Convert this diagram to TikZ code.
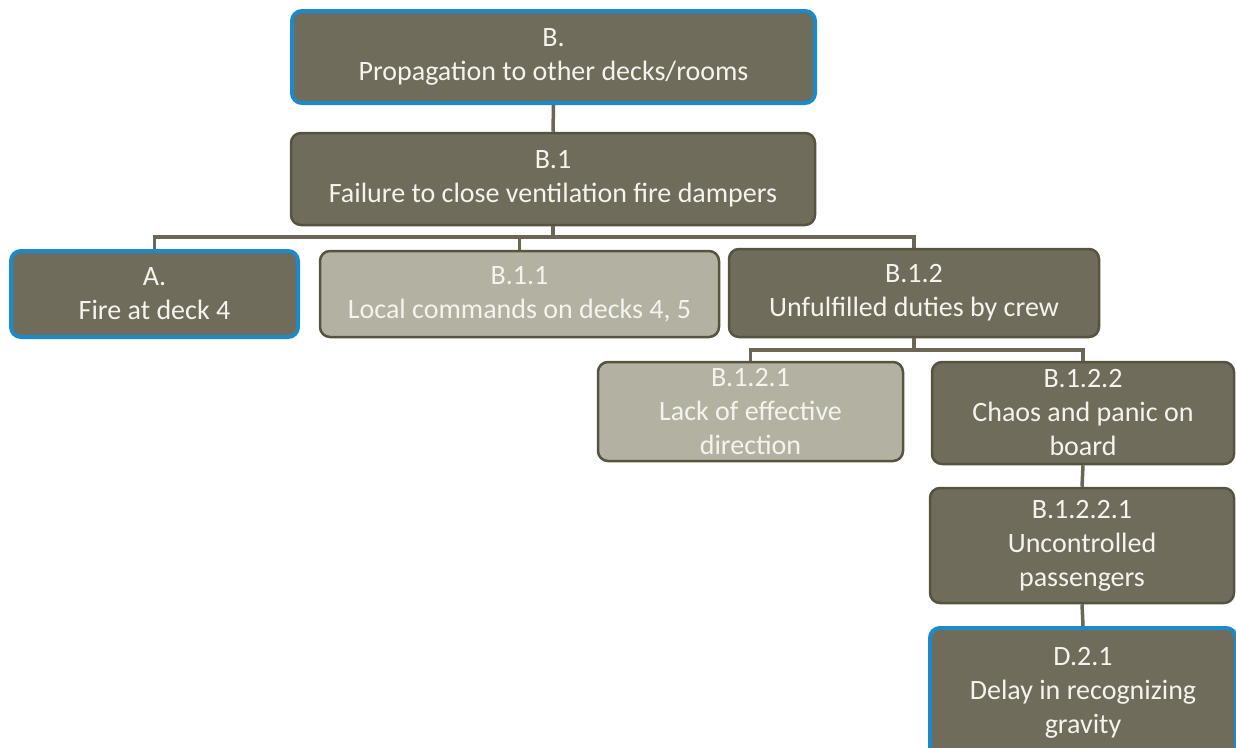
\documentclass[tikz,border=0pt]{standalone}
\usepackage{fontspec}
\setmainfont{Carlito}
\definecolor{olive}{HTML}{706C5C}
\definecolor{pale}{HTML}{B3B2A2}
\definecolor{edge}{HTML}{57533F}
\definecolor{hilite}{HTML}{1D89C7}
\definecolor{wire}{HTML}{6B6656}
\definecolor{ink}{HTML}{F4F3EE}
\tikzset{
  box/.style={draw=edge, fill=olive, line width=2.5pt, rounded corners=10pt,
    text=ink, align=center, inner sep=0pt,
    font=\fontsize{28}{34}\selectfont},
  lightbox/.style={box, fill=pale},
  keybox/.style={box, draw=hilite, line width=4pt},
  link/.style={draw=wire, line width=3.5pt}
}
\begin{document}
\begin{tikzpicture}[x=1pt,y=-1pt]
\useasboundingbox (0,0) rectangle (1236,747);
\clip (0,0) rectangle (1236,747);
\fill[white] (0,0) rectangle (1236,747);

% connectors first, so the boxes sit on top of them
\coordinate (bus1) at (553,237);
\coordinate (bus2) at (914,350);

% boxes, placed by centre with pixel sizes
\node[keybox, minimum width=523, minimum height=92] (B) at (553.5,57) {B.\\Propagation to other decks/rooms};
\node[box, minimum width=524, minimum height=92] (B1) at (553,179) {B.1\\Failure to close ventilation fire dampers};
\node[keybox, minimum width=287, minimum height=86] (A) at (154.5,294) {A.\\Fire at deck 4};
\node[lightbox, minimum width=399, minimum height=86] (B11) at (519.5,294) {B.1.1\\Local commands on decks 4, 5};
\node[box, minimum width=370, minimum height=88] (B12) at (914,293) {B.1.2\\Unfulfilled duties by crew};
\node[lightbox, minimum width=305, minimum height=99] (B121) at (750.5,411.5) {B.1.2.1\\Lack of effective\\direction};
\node[box, minimum width=302, minimum height=102] (B122) at (1083,413) {B.1.2.2\\Chaos and panic on\\board};
\node[box, minimum width=304, minimum height=115] (B1221) at (1082,545.5) {B.1.2.2.1\\Uncontrolled\\passengers};
\node[keybox, minimum width=306, minimum height=130] (D21) at (1083,693) {D.2.1\\Delay in recognizing\\gravity};

% connectors
\draw[link] (B.south) -- (B1.north);
\draw[link] (B1.south) -- (bus1);
\draw[link] (bus1) -| (A.north);
\draw[link] (bus1) -| (B11.north);
\draw[link] (bus1) -| (B12.north);
\draw[link] (B12.south) -- (bus2);
\draw[link] (bus2) -| (B121.north);
\draw[link] (bus2) -| (B122.north);
\draw[link] (B122.south) -- (B1221.north);
\draw[link] (B1221.south) -- (D21.north);
\end{tikzpicture}
\end{document}
